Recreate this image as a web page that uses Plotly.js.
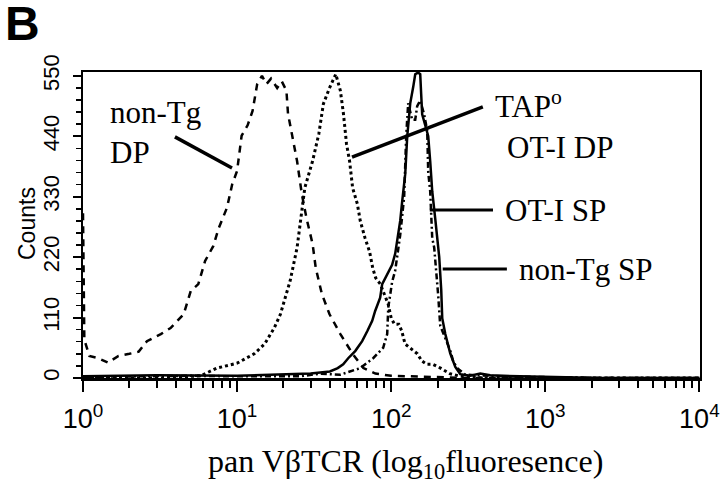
<!DOCTYPE html>
<html>
<head>
<meta charset="utf-8">
<script src="https://cdn.plot.ly/plotly-3.0.1.min.js"></script>
<style>
  body { margin: 0; background: #fff; }
  #plot1 { width: 720px; height: 486px; }
</style>
</head>
<body>
<div id="plot1"></div>
<script>
// histogram values (x = fluorescence, y = counts)
var x_nonTgDP = [1.0, 1.02, 1.1, 1.26, 1.45, 1.7, 2.0, 2.3, 2.6, 3.2, 3.7, 4.5, 5.0, 5.6, 6.2, 7.0, 7.6, 8.6, 9.3,
  10.0, 10.7, 11.7, 12.6, 13.5, 14.5, 15.5, 16.6, 18.2, 19.5, 20.9, 21.4, 22.9, 24.5, 26.3, 28.2, 30.9, 32.4,
  35.5, 39.8, 46.8, 56.2, 66, 79, 100, 158, 316, 1000, 10000];
var y_nonTgDP = [300, 70, 40, 36, 28, 40, 44, 48, 67, 80, 91, 116, 158, 171, 213, 240, 273, 310, 353,
  377, 441, 460, 486, 535, 550, 535, 545, 528, 540, 523, 481, 437, 395, 335, 291, 244, 200,
  153, 116, 80, 44, 18, 8, 4, 2, 0, 0, 0];

var x_tapDP = [1, 3.2, 5.0, 5.8, 7.4, 10, 12.9, 15.1, 17.4, 19.1, 22.1, 24.5, 26.3, 27.5, 30.9, 33.9, 36.3,
  39.8, 43.7, 46.8, 49, 51.3, 53.7, 56.2, 60.3, 63, 67.6, 72.4, 75.9, 79.4, 85, 95.5, 100, 105, 112, 117,
  123, 132, 148, 158, 170, 186, 209, 240, 282, 398, 1000, 10000];
var y_tapDP = [0, 0, 3, 4, 18, 27, 44, 62, 91, 116, 177, 237, 304, 346, 395, 444, 499,
  528, 553, 523, 481, 426, 395, 346, 317, 286, 255, 230, 200, 182, 171, 135, 109, 98, 98, 86,
  62, 55, 44, 31, 25, 25, 18, 8, 3, 0, 0, 0];

var x_otiSP = [1, 3, 10, 20, 30, 40, 45, 48.8, 52.6, 58.4, 64.8, 69.9, 75.3, 78.7, 84.8, 87.4, 94.2, 101.4,
  106.1, 109.3, 114.4, 117.9, 123.3, 127.1, 132.9, 139.0, 143.2, 149.7, 154.3, 156.5, 158.9, 166.3, 173.9,
  179.1, 184.6, 193.1, 199.0, 205.0, 211.2, 214.4, 224.5, 234.5, 241.6, 260.6, 280.6, 325.8, 378.4, 439.5,
  688, 2275, 10000];
var y_otiSP = [3, 5, 4, 6, 8, 12, 18, 25, 36, 49, 67, 85, 104, 122, 146, 171, 189, 206,
  226, 250, 286, 322, 371, 440, 500, 530, 553, 556, 553, 517, 480, 460, 440,
  395, 340, 290, 257, 220, 160, 109, 80, 60, 45, 20, 7, 4, 8, 5,
  3, 0, 0];

var x_nonTgSP = [1, 5, 10, 20, 25.6, 34.6, 46.7, 62.9, 76.4, 88.7, 94.2, 95.7, 98.6, 101.4, 106.1, 114.4,
  121.4, 125.1, 128.9, 136.8, 143.2, 147.5, 154.3, 163.6, 171.3, 173.9, 179.1, 181.8, 184.6, 190.2, 193.1,
  199.0, 201.9, 208.1, 224.5, 241.6, 252.9, 268.5, 302.7, 510, 2275, 10000];
var y_nonTgSP = [2, 4, 3, 4, 3, 8, 6, 18, 36, 55, 80, 128, 153, 175, 195, 260,
  330, 440, 500, 470, 470, 495, 505, 480, 450, 375, 340, 300, 255, 237, 215,
  185, 150, 95, 73, 50, 30, 18, 6, 3, 0, 0];

var xTickVals = [1, 10, 100, 1000, 10000];
var xTickText = ['10<sup>0</sup>', '10<sup>1</sup>', '10<sup>2</sup>', '10<sup>3</sup>', '10<sup>4</sup>'];
var xMinorVals = [2, 3, 4, 5, 6, 7, 8, 9, 20, 30, 40, 50, 60, 70, 80, 90,
  200, 300, 400, 500, 600, 700, 800, 900, 2000, 3000, 4000, 5000, 6000, 7000, 8000, 9000];
var yTickVals = [0, 110, 220, 330, 440, 550];

function draw() {
  try {
    var serif = 'Liberation Serif, Times New Roman, serif';
    var sans = 'Liberation Sans, Arial, sans-serif';
    var narrow = 'Liberation Sans Narrow, Arial Narrow, Liberation Sans, sans-serif';

    var nonTgDP = {
      x: x_nonTgDP, y: y_nonTgDP, name: 'non-Tg DP', type: 'scatter', mode: 'lines',
      line: {color: '#000', width: 2.5, dash: '7px,6px'}
    };
    var tapDP = {
      x: x_tapDP, y: y_tapDP, name: 'TAPo OT-I DP', type: 'scatter', mode: 'lines',
      line: {color: '#000', width: 3, dash: '3px,3px'}
    };
    var otiSP = {
      x: x_otiSP, y: y_otiSP, name: 'OT-I SP', type: 'scatter', mode: 'lines',
      line: {color: '#000', width: 2.5}
    };
    var nonTgSP = {
      x: x_nonTgSP, y: y_nonTgSP, name: 'non-Tg SP', type: 'scatter', mode: 'lines',
      line: {color: '#000', width: 2.5, dash: '6px,3px,2px,3px'}
    };
    var data = [nonTgDP, tapDP, otiSP, nonTgSP];

    // label text next to the curves
    var lab = function (txt, x, y) {
      return {text: txt, xref: 'paper', yref: 'paper', x: x, y: y, xanchor: 'left', yanchor: 'middle',
        showarrow: false, font: {family: serif, size: 31, color: '#000'}};
    };
    // leader lines
    var seg = function (x0, y0, x1, y1, w) {
      return {type: 'line', xref: 'paper', yref: 'paper', x0: x0, y0: y0, x1: x1, y1: y1,
        line: {color: '#000', width: w}};
    };

    var layout = {
      width: 720, height: 486,
      margin: {l: 83, r: 20, t: 72, b: 108},
      paper_bgcolor: '#fff', plot_bgcolor: '#fff',
      showlegend: false,
      xaxis: {
        type: 'log', range: [0, 4.004],
        showline: true, linewidth: 2.5, linecolor: '#000', mirror: true,
        showgrid: false, zeroline: false,
        ticks: 'outside', ticklen: 11, tickwidth: 2, tickcolor: '#000',
        tickmode: 'array', tickvals: xTickVals, ticktext: xTickText,
        tickfont: {family: narrow, size: 27, color: '#000'},
        ticklabelstandoff: 4,
        minor: {tickmode: 'array', tickvals: xMinorVals, ticks: 'outside', ticklen: 7, tickwidth: 2, tickcolor: '#000'}
      },
      yaxis: {
        range: [0, 557],
        showline: true, linewidth: 2, linecolor: '#000', mirror: true,
        showgrid: false, zeroline: false,
        ticks: 'outside', ticklen: 8, tickwidth: 2, tickcolor: '#000',
        tickmode: 'array', tickvals: yTickVals, tickangle: -90,
        tickfont: {family: narrow, size: 22, color: '#000'},
        ticklabelstandoff: 5,
        minor: {dtick: 22, ticks: 'outside', ticklen: 5, tickwidth: 1.5, tickcolor: '#000'}
      },
      annotations: [
        {text: '<b>B</b>', xref: 'paper', yref: 'paper', x: -0.128, y: 1.158, xanchor: 'left', yanchor: 'middle',
          borderpad: 0, showarrow: false, font: {family: sans, size: 48, color: '#000'}},
        {text: 'Counts', xref: 'paper', yref: 'paper', x: -0.0908, y: 0.5065, xanchor: 'center', yanchor: 'middle',
          textangle: -90, showarrow: false, font: {family: narrow, size: 23, color: '#000'}},
        {text: 'pan V\u03b2TCR (log<sub>10</sub>fluoresence)', xref: 'paper', yref: 'paper',
          x: 0.5235, y: -0.281, xanchor: 'center', yanchor: 'middle', showarrow: false,
          font: {family: serif, size: 32, color: '#000'}},
        lab('non-Tg', 0.0405, 0.868),
        lab('DP', 0.0405, 0.737),
        lab('TAP<sup>o</sup>', 0.6645, 0.894),
        lab('OT-I DP', 0.684, 0.753),
        lab('OT-I SP', 0.681, 0.547),
        lab('non-Tg SP', 0.703, 0.3546)
      ],
      shapes: [
        seg(0.149, 0.788, 0.2415, 0.686, 3.5),
        seg(0.436, 0.722, 0.648, 0.886, 3.5),
        seg(0.562, 0.549, 0.6645, 0.549, 3),
        seg(0.583, 0.356, 0.687, 0.356, 3)
      ]
    };

    Plotly.newPlot('plot1', data, layout, {displayModeBar: false, staticPlot: true});
  }
  catch (err) {
    console.error(err);
  }
}
draw();
</script>
</body>
</html>
